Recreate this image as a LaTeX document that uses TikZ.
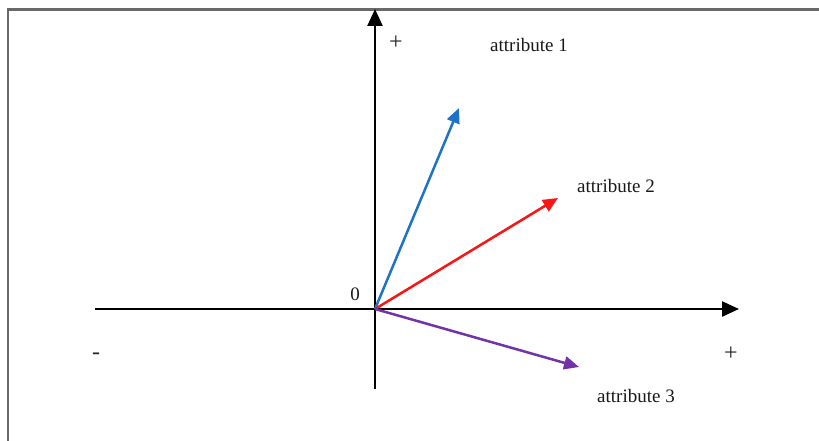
\documentclass[tikz,border=0pt]{standalone}
\usepackage{fontspec}
\setmainfont{Liberation Serif}
\usetikzlibrary{arrows.meta}
\definecolor{vblue}{RGB}{30,115,200}
\definecolor{vred}{RGB}{250,20,20}
\definecolor{vpurple}{RGB}{115,50,165}
\definecolor{framegray}{RGB}{105,105,105}
\tikzset{
  axis/.style={line width=2.5pt, black, -{Triangle[length=17pt,width=15pt]}},
  vec/.style={line width=2.5pt, -{Triangle[length=15pt,width=13pt]}},
  lbl/.style={font=\fontsize{19}{19}\selectfont, inner sep=0pt, text=black!90},
  sgn/.style={font=\fontsize{24}{24}\selectfont, inner sep=0pt, text=black!85}
}
\begin{document}
\begin{tikzpicture}[x=1pt,y=-1pt]
\useasboundingbox (0,0) rectangle (819,441);
\fill[white] (0,0) rectangle (819,441);
\draw[framegray, line width=2.2pt] (8,441) -- (8,9.5) -- (819,9.5);
\coordinate (O) at (375,309);
\coordinate (xl) at (95,309);
\coordinate (xr) at (739,309);
\coordinate (yb) at (375,389);
\coordinate (yt) at (375,9);
\draw[axis] (xl) -- (xr);
\draw[axis] (yb) -- (yt);
\coordinate (a1) at (459,108);
\coordinate (a2) at (558,198);
\coordinate (a3) at (579,367);
\draw[vec, vblue] (O) -- (a1);
\draw[vec, vred] (O) -- (a2);
\draw[vec, vpurple] (O) -- (a3);
\node[lbl] (t1) at (529,45) {attribute 1};
\node[lbl] (t2) at (616,186) {attribute 2};
\node[lbl] (t3) at (636,396) {attribute 3};
\node[lbl] (zero) at (355,294) {0};
\node[sgn] (pup) at (396,43) {+};
\node[sgn] (pright) at (731,354) {+};
\node[sgn] (minus) at (96,356) {-};
\end{tikzpicture}
\end{document}
